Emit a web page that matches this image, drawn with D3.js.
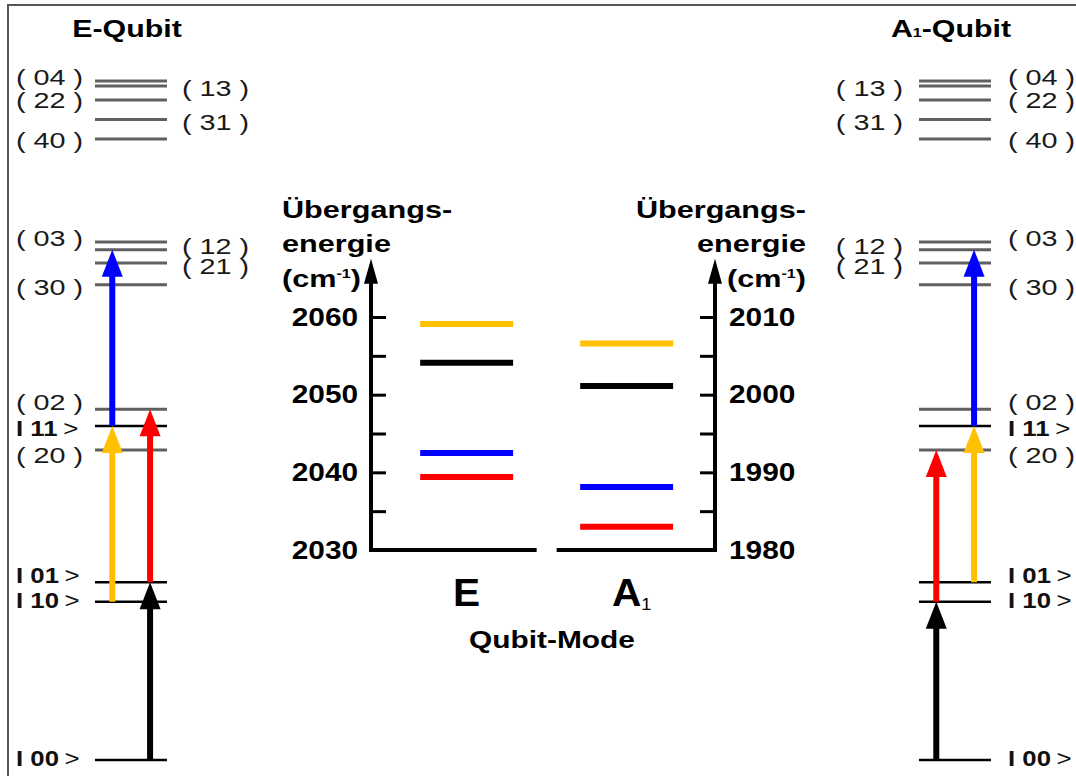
<!DOCTYPE html>
<html>
<head>
<meta charset="utf-8">
<script src="https://cdn.jsdelivr.net/npm/d3@7"></script>
<style>
  body { margin: 0; background: #fff; }
  svg { display: block; font-family: "Liberation Sans", Arial, sans-serif; }
</style>
</head>
<body>
<div id="chart"></div>
<script>
// ---- data ----
const modes = ["E", "A1"];
const transitionColors = ["#ffc000", "#000000", "#0000ff", "#ff0000"];
const eEnergies = [2059.1, 2054.1, 2042.5, 2039.4];
const a1Energies = [2006.6, 2001.1, 1988.1, 1983.0];
const eTicks = [2030, 2035, 2040, 2045, 2050, 2055, 2060];
const a1Ticks = [1980, 1985, 1990, 1995, 2000, 2005, 2010];

// level scheme (relative energies, not to scale)
const levelNames = ["00", "10", "01", "20", "11", "02", "30", "21", "12", "03", "40", "31", "22", "13", "04"];
const levelEnergy = [0, 22.6, 25.4, 44.3, 47.7, 50.1, 67.9, 71.0, 72.9, 74.0, 88.7, 91.5, 94.3, 96.3, 97.0];
const kets = ["00", "10", "01", "11"];

// transitions: [from, to, colour index, arrow column]
const eTransitions = [["00", "01", 1, 1], ["01", "02", 3, 1], ["10", "11", 0, 0], ["11", "12", 2, 0]];
const a1Transitions = [["00", "10", 1, 0], ["10", "20", 3, 0], ["01", "11", 0, 1], ["11", "12", 2, 1]];

const eLeftLabels = ["04", "22", "40", "03", "30", "02", "11", "20", "01", "10", "00"];
const eRightLabels = ["13", "31", "12", "21"];
const a1LeftLabels = ["13", "31", "12", "21"];
const a1RightLabels = ["04", "22", "40", "03", "30", "02", "11", "20", "01", "10", "00"];

// ---- layout ----
const width = 1076, height = 776;
const svg = d3.select("#chart").append("svg")
    .attr("width", width)
    .attr("height", height);

// frame
svg.append("path")
    .attr("d", `M8,${height} V5 H${width}`)
    .attr("fill", "none")
    .attr("stroke", "#555")
    .attr("stroke-width", 2);

// text helper (the original text is drawn a bit wider than the font)
function addText(g, x, y, str, o) {
    const t = g.append("text")
        .attr("transform", `translate(${x},${y}) scale(${o.sx || 1},1)`)
        .attr("text-anchor", o.anchor || "start")
        .attr("font-size", o.size)
        .attr("font-weight", o.weight || "normal")
        .attr("fill", o.fill || "#000");
    if (str !== null) t.text(str);
    return t;
}

const levelY = d3.scaleLinear().domain([0, 100]).range([760, 60]);
const energyOf = name => levelEnergy[levelNames.indexOf(name)];

// small vertical nudges so that stacked labels do not collide
const nudge = {"04": -4, "22": 0, "13": 2, "31": 3, "40": 1, "03": -4, "12": -4, "21": 3,
               "30": 2, "02": -7, "11": 2, "20": 5, "01": -7, "10": -2, "00": -2};

function drawDiagram(cfg) {
    const g = svg.append("g");
    const xl = d3.scaleLinear().domain([0, 1]).range([cfg.x0, cfg.x1]);

    // title
    const tt = addText(g, cfg.titleX, 37, null, {size: 24.7, weight: "bold", anchor: "middle", sx: 1.23});
    cfg.title.forEach(p => tt.append("tspan").attr("font-size", p[1] ? 13 : null).text(p[0]));

    // level lines
    g.selectAll("line.level")
        .data(levelNames)
        .join("line")
        .attr("class", "level")
        .attr("x1", xl(0)).attr("x2", xl(1))
        .attr("y1", d => levelY(energyOf(d)))
        .attr("y2", d => levelY(energyOf(d)))
        .attr("stroke", d => kets.includes(d) ? "#000" : "#606060")
        .attr("stroke-width", d => kets.includes(d) ? 2.5 : 3);

    // labels
    function label(name, x, anchor) {
        const y = levelY(energyOf(name)) + nudge[name];
        if (kets.includes(name)) {
            const t = addText(g, x, y, null, {size: 23, weight: "bold", anchor: anchor, sx: 1.12, fill: "#111"});
            t.attr("dy", "0.35em");
            t.append("tspan").text("I " + name);
            t.append("tspan").attr("dx", 5).attr("font-weight", "normal").text(">");
        } else {
            addText(g, x, y, `( ${name} )`, {size: 22.5, anchor: anchor, sx: 1.28, fill: "#1a1a1a"})
                .attr("dy", "0.35em");
        }
    }
    cfg.leftLabels.forEach(n => label(n, cfg.leftX, cfg.leftAnchor));
    cfg.rightLabels.forEach(n => label(n, cfg.rightX, "start"));

    // arrows
    const cols = [0.24, 0.765];
    cfg.transitions.forEach(tr => {
        const x = xl(cols[tr[3]]);
        const y0 = levelY(energyOf(tr[0]));
        const y1 = levelY(energyOf(tr[1]));
        const c = transitionColors[tr[2]];
        g.append("line")
            .attr("x1", x).attr("x2", x)
            .attr("y1", y0).attr("y2", y1 + 20)
            .attr("stroke", c)
            .attr("stroke-width", 6);
        g.append("path")
            .attr("d", `M${x},${y1} L${x - 10.5},${y1 + 27} L${x + 10.5},${y1 + 27} Z`)
            .attr("fill", c);
    });
}

drawDiagram({
    title: [["E-Qubit", false]], titleX: 127,
    x0: 95, x1: 167,
    leftLabels: eLeftLabels, leftX: 16, leftAnchor: "start",
    rightLabels: eRightLabels, rightX: 182,
    transitions: eTransitions
});
drawDiagram({
    title: [["A", false], ["1", true], ["-Qubit", false]], titleX: 951,
    x0: 919, x1: 991,
    leftLabels: a1LeftLabels, leftX: 903, leftAnchor: "end",
    rightLabels: a1RightLabels, rightX: 1008,
    transitions: a1Transitions
});

// ---- central chart: transition energies ----
const yE = d3.scaleLinear().domain([2030, 2060]).range([550, 317]);
const yA = d3.scaleLinear().domain([1980, 2010]).range([550, 317]);
const x = d3.scaleBand().domain(modes).range([371, 715])
    .paddingInner(0.419).paddingOuter(0.2845).align(0.54);
const axisLeftX = 371, axisRightX = 715;
const tipY = yE(2067.5), headY = tipY + 23;

const chart = svg.append("g");

// axes (ticks only; lines drawn separately)
const leftAxis = chart.append("g")
    .attr("transform", `translate(${axisLeftX},0)`)
    .call(d3.axisLeft(yE).tickValues(eTicks).tickSize(-15).tickPadding(11)
        .tickFormat(d => d % 10 === 0 ? d : ""));
const rightAxis = chart.append("g")
    .attr("transform", `translate(${axisRightX},0)`)
    .call(d3.axisRight(yA).tickValues(a1Ticks).tickSize(-15).tickPadding(12)
        .tickFormat(d => d % 10 === 0 ? d : ""));
[leftAxis, rightAxis].forEach(a => {
    a.select(".domain").remove();
    a.selectAll(".tick line").attr("stroke", "#000").attr("stroke-width", 3);
    a.selectAll(".tick text")
        .attr("font-family", "Liberation Sans, Arial, sans-serif")
        .attr("font-size", 25.5)
        .attr("font-weight", "bold")
        .attr("fill", "#000")
        .attr("transform", "scale(1.17,1)");
});

// axis lines with arrow heads, and the split baseline
const gapC = (x("E") + x.bandwidth() + x("A1")) / 2;
chart.append("path")
    .attr("d", `M${axisLeftX},${headY} V${yE(2030)} H${gapC - 10}`)
    .attr("fill", "none").attr("stroke", "#000").attr("stroke-width", 4)
    .attr("stroke-linejoin", "miter");
chart.append("path")
    .attr("d", `M${gapC + 10},${yA(1980)} H${axisRightX} V${headY}`)
    .attr("fill", "none").attr("stroke", "#000").attr("stroke-width", 4)
    .attr("stroke-linejoin", "miter");
[axisLeftX, axisRightX].forEach(ax => {
    chart.append("path")
        .attr("d", `M${ax},${tipY} L${ax - 7},${headY + 2} L${ax + 7},${headY + 2} Z`)
        .attr("fill", "#000");
});

// transition energy bars
const series = [{mode: "E", y: yE, values: eEnergies}, {mode: "A1", y: yA, values: a1Energies}];
series.forEach(s => {
    chart.selectAll(null)
        .data(s.values)
        .join("line")
        .attr("x1", x(s.mode))
        .attr("x2", x(s.mode) + x.bandwidth())
        .attr("y1", d => s.y(d))
        .attr("y2", d => s.y(d))
        .attr("stroke", (d, i) => transitionColors[i])
        .attr("stroke-width", 6);
});

// axis titles
function axisTitle(xp, anchor) {
    addText(chart, xp, 218, "Übergangs-", {size: 24.7, weight: "bold", anchor: anchor, sx: 1.24});
    addText(chart, xp, 252, "energie", {size: 24.7, weight: "bold", anchor: anchor, sx: 1.24});
    const t = addText(chart, xp, 287, null, {size: 24.7, weight: "bold", anchor: anchor, sx: 1.24});
    t.append("tspan").text("(cm");
    t.append("tspan").attr("font-size", 13).attr("dy", -9).text("-1");
    t.append("tspan").attr("dy", 9).text(")");
}
axisTitle(282, "start");
axisTitle(806, "end");

// category labels
addText(chart, x("E") + x.bandwidth() / 2, 606, "E", {size: 38, weight: "bold", anchor: "middle", sx: 1.07});
const a1 = addText(chart, x("A1") + x.bandwidth() / 2 + 5, 606, null, {size: 38, weight: "bold", anchor: "middle", sx: 1.07});
a1.append("tspan").text("A");
a1.append("tspan").attr("font-size", 17).attr("font-weight", "normal").attr("dy", 4).text("1");

addText(chart, (axisLeftX + axisRightX) / 2 + 9, 648, "Qubit-Mode", {size: 23.5, weight: "bold", anchor: "middle", sx: 1.27});
</script>
</body>
</html>
